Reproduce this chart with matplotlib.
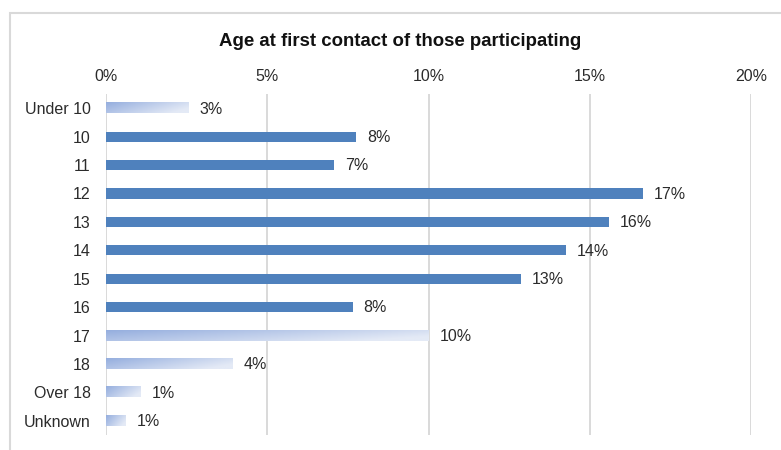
import numpy as np
import matplotlib
matplotlib.use('Agg')
import matplotlib.pyplot as plt
from matplotlib.patches import Rectangle

# age groups and share of participants (fraction of 100%)
ages = ['Under 10', '10', '11', '12', '13', '14', '15', '16', '17', '18', 'Over 18', 'Unknown']
share = [2.57, 7.75, 7.07, 16.63, 15.59, 14.25, 12.85, 7.64, 9.99, 3.91, 1.07, 0.61]
# ages drawn with the solid fill, the rest get the faded fill
core_ages = ['10', '11', '12', '13', '14', '15', '16']
x_ticks = [0, 5, 10, 15, 20]

plt.rcParams['font.family'] = ['Liberation Sans', 'DejaVu Sans']
text_col = '#2b2b2b'
grid_col = '#D9D9D9'
solid_col = '#4F81BD'

fig = plt.figure(figsize=(7.81, 4.5), dpi=100)
W, H = 781, 450
ax = fig.add_axes([106 / W, (H - 435) / H, (751.3 - 106) / W, (435 - 94) / H])

# faded fill: darker blue top-left, fading to pale right/bottom
c0 = np.array([0x95, 0xAE, 0xDE]) / 255.0
c1 = np.array([0xE4, 0xEA, 0xF6]) / 255.0
gx, gy = np.meshgrid(np.linspace(0, 1, 200), np.linspace(0, 1, 20))
t = np.clip(0.8 * gx + 0.35 * gy, 0, 1)[..., None]
grad = c0 * (1 - t) + c1 * t

bar_h = 0.36
for i, (age, v) in enumerate(zip(ages, share)):
    if age in core_ages:
        ax.barh(i, v, height=bar_h, color=solid_col, zorder=3)
    else:
        ax.imshow(grad, extent=(0, v, i + bar_h / 2, i - bar_h / 2),
                  aspect='auto', interpolation='bilinear', zorder=3)
    ax.text(v + 0.34, i + 0.03, '%d%%' % round(v), va='center', ha='left',
            fontsize=11.5, color=text_col, zorder=4)

ax.set_xlim(0, 20)
ax.set_ylim(len(ages) - 0.5, -0.5)
ax.set_xticks(x_ticks)
ax.set_xticklabels(['%d%%' % x for x in x_ticks])
ax.xaxis.tick_top()
ax.set_yticks(range(len(ages)))
ax.set_yticklabels(ages)
ax.tick_params(axis='x', length=0, pad=7, labelsize=11.5, colors=text_col)
ax.tick_params(axis='y', length=0, pad=11, labelsize=11.5, colors=text_col)
for s in ax.spines.values():
    s.set_visible(False)
ax.grid(axis='x', color=grid_col, linewidth=1.4, zorder=0)
ax.set_axisbelow(True)

fig.text(400 / W, 1 - 41 / H, 'Age at first contact of those participating',
         ha='center', va='center', fontsize=13.4, fontweight='bold', color='#111111')

# chart area border
fig.patches.append(Rectangle((10 / W, -0.1), 1.2, 1 - 13 / H + 0.1,
                             transform=fig.transFigure, fill=False,
                             edgecolor=grid_col, linewidth=1.5))

fig.savefig('out.png', dpi=100)
